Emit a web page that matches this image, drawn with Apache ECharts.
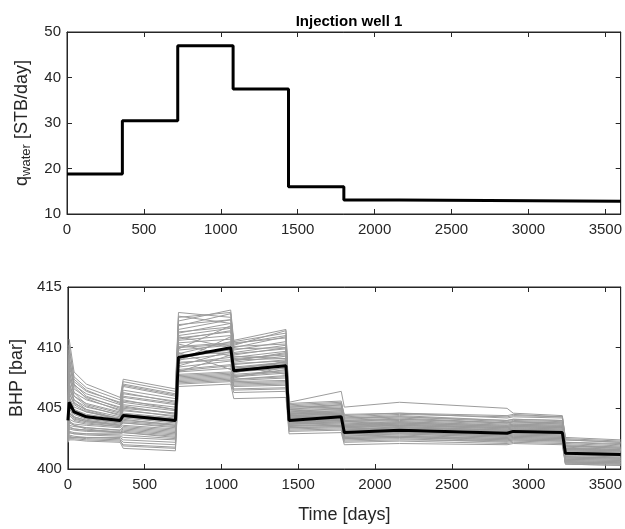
<!DOCTYPE html>
<html><head><meta charset="utf-8">
<script src="https://cdn.jsdelivr.net/npm/echarts@6/dist/echarts.min.js"></script>
<style>html,body{margin:0;padding:0;background:#fff}#c{width:625px;height:529px}</style>
</head><body><div id="c"></div>
<script>
// ---- Top panel: injection rate (step) ----
var rateTimes = [0, 360, 720, 1080, 1440, 1800, 2160, 3600];
var rateValues = [18.8, 30.5, 47.0, 37.5, 16.0, 13.1, 12.8, 12.8];

// ---- Bottom panel: BHP ensemble ----
var bhpTimes = [0, 8, 40, 120, 340, 360, 700, 720, 1060, 1080, 1420, 1440, 1780, 1800, 2160, 2860, 2900, 3220, 3240, 3600];
var bhpMean = [404.0, 405.5, 404.7, 404.3, 404.0, 404.4, 404.0, 409.2, 410.0, 408.1, 408.5, 404.0, 404.3, 403.0, 403.2, 402.95, 403.1, 403.0, 401.3, 401.2];
var m01 = [404.5, 410.7, 408.0, 407.0, 405.9, 407.4, 406.6, 412.9, 412.5, 410.4, 410.8, 405.4, 405.6, 404.3, 404.5, 404.3, 404.4, 404.3, 402.6, 402.4];
var m02 = [404.3, 409.8, 407.6, 406.7, 405.7, 407.2, 406.4, 412.2, 413.1, 410.6, 411.5, 405.5, 406.4, 405.1, 405.5, 405.0, 404.6, 404.4, 402.5, 402.3];
var m03 = [404.2, 409.0, 407.2, 406.4, 405.5, 407.0, 406.2, 411.8, 412.8, 410.2, 411.4, 405.2, 405.4, 404.4, 404.6, 404.2, 404.3, 404.2, 402.4, 402.2];
var m04 = [404.0, 408.5, 406.9, 406.2, 405.3, 406.8, 406.0, 411.5, 412.3, 410.0, 410.9, 405.1, 405.3, 404.2, 404.4, 404.0, 404.1, 404.0, 402.2, 402.0];
var m05 = [403.9, 408.0, 406.6, 405.9, 405.1, 406.5, 405.8, 411.2, 412.0, 409.8, 410.5, 405.0, 405.1, 404.1, 404.3, 403.9, 404.0, 403.9, 402.1, 401.9];
var m06 = [403.8, 407.5, 406.3, 405.7, 404.9, 406.2, 405.6, 411.0, 411.6, 409.6, 410.2, 404.9, 405.0, 404.0, 404.2, 403.8, 403.9, 403.8, 402.0, 401.8];
var m07 = [403.7, 407.0, 406.0, 405.4, 404.7, 405.9, 405.3, 410.8, 411.3, 409.4, 410.0, 404.8, 404.9, 403.9, 404.0, 403.7, 403.8, 403.7, 401.9, 401.7];
var m08 = [403.6, 406.6, 405.7, 405.1, 404.5, 405.6, 405.1, 410.6, 411.0, 409.2, 409.7, 404.7, 404.8, 403.8, 403.9, 403.6, 403.7, 403.6, 401.8, 401.6];
var m09 = [403.5, 406.2, 405.4, 404.9, 404.3, 405.3, 404.8, 410.4, 410.7, 409.0, 409.5, 404.6, 404.7, 403.7, 403.8, 403.5, 403.6, 403.5, 401.7, 401.5];
var m10 = [403.4, 405.9, 405.1, 404.7, 404.2, 405.0, 404.6, 410.1, 410.4, 408.8, 409.3, 404.5, 404.6, 403.6, 403.7, 403.4, 403.5, 403.4, 401.6, 401.5];
var m11 = [403.3, 405.6, 404.9, 404.5, 404.1, 404.8, 404.4, 409.8, 410.2, 408.6, 409.0, 404.4, 404.5, 403.5, 403.6, 403.3, 403.4, 403.3, 401.5, 401.4];
var m12 = [403.2, 405.3, 404.7, 404.3, 403.9, 404.6, 404.2, 409.5, 410.5, 408.4, 408.8, 404.3, 404.4, 403.4, 403.5, 403.2, 403.3, 403.2, 401.4, 401.3];
var m13 = [403.1, 405.0, 404.5, 404.1, 403.8, 404.4, 404.0, 409.3, 409.8, 408.2, 408.6, 404.2, 404.3, 403.3, 403.4, 403.1, 403.2, 403.1, 401.3, 401.2];
var m14 = [403.0, 404.7, 404.3, 404.0, 403.7, 404.2, 403.8, 409.0, 409.5, 408.0, 408.3, 404.1, 404.2, 403.2, 403.3, 403.0, 403.1, 403.0, 401.2, 401.1];
var m15 = [402.9, 404.4, 404.1, 403.9, 403.6, 404.0, 403.7, 408.7, 409.2, 407.8, 408.1, 404.0, 404.1, 403.1, 403.2, 402.9, 403.0, 402.9, 401.1, 401.0];
var m16 = [402.8, 404.1, 403.9, 403.7, 403.5, 403.8, 403.5, 408.4, 408.9, 407.6, 407.9, 403.9, 404.0, 403.0, 403.1, 402.8, 402.9, 402.8, 401.0, 400.9];
var m17 = [402.7, 403.9, 403.7, 403.6, 403.4, 403.6, 403.3, 408.2, 408.6, 407.4, 407.7, 403.8, 403.9, 402.9, 403.0, 402.7, 402.8, 402.7, 400.9, 400.8];
var m18 = [402.6, 403.6, 403.5, 403.4, 403.2, 403.4, 403.1, 408.0, 408.3, 407.3, 407.5, 403.7, 403.8, 402.8, 402.9, 402.6, 402.7, 402.6, 400.8, 400.7];
var m19 = [402.5, 403.3, 403.2, 403.1, 403.0, 403.2, 402.9, 407.8, 408.0, 407.2, 407.3, 403.6, 403.7, 402.7, 402.8, 402.5, 402.6, 402.5, 400.7, 400.6];
var m20 = [402.4, 403.1, 403.0, 402.9, 402.9, 403.0, 402.7, 407.6, 407.8, 407.0, 407.1, 403.5, 403.6, 402.6, 402.7, 402.4, 402.5, 402.4, 400.6, 400.5];
var m21 = [402.4, 403.0, 402.9, 402.8, 402.7, 402.6, 402.4, 407.4, 407.6, 406.8, 406.9, 403.4, 403.5, 402.5, 402.6, 402.3, 402.4, 402.3, 400.5, 400.5];
var m22 = [402.3, 402.8, 402.7, 402.6, 402.5, 402.2, 402.0, 407.2, 407.4, 406.6, 406.7, 403.3, 403.4, 402.4, 402.5, 402.2, 402.3, 402.2, 400.5, 400.4];
var m23 = [402.3, 402.6, 402.6, 402.5, 402.4, 401.9, 401.7, 407.0, 407.2, 406.3, 406.4, 403.1, 403.2, 402.2, 402.3, 402.1, 402.2, 402.1, 400.4, 400.3];
var m24 = [402.2, 402.4, 402.4, 402.3, 402.2, 401.7, 401.5, 406.8, 407.0, 405.8, 405.9, 402.9, 403.0, 402.0, 402.1, 402.0, 402.1, 402.0, 400.4, 400.3];
var m25 = [404.0, 409.4, 407.0, 406.0, 405.0, 406.0, 405.4, 411.9, 412.3, 410.1, 410.3, 405.1, 405.2, 404.0, 404.1, 403.8, 403.9, 403.8, 401.9, 401.8];
var m26 = [403.6, 408.2, 406.3, 405.3, 404.6, 405.7, 404.9, 409.9, 411.8, 409.3, 409.1, 404.4, 404.5, 403.5, 403.6, 403.4, 403.5, 403.4, 401.6, 401.5];
var m27 = [403.0, 406.0, 404.9, 404.4, 403.9, 404.3, 403.9, 410.3, 409.3, 408.9, 409.6, 404.2, 404.4, 403.3, 403.4, 403.1, 403.2, 403.1, 401.3, 401.2];
var m28 = [402.6, 404.0, 403.6, 403.3, 403.0, 403.1, 402.8, 408.5, 409.7, 407.5, 408.4, 403.7, 403.9, 402.9, 403.0, 402.7, 402.8, 402.7, 400.9, 400.8];
var m29 = [402.9, 405.0, 404.3, 404.0, 403.6, 404.1, 403.6, 409.6, 408.2, 408.5, 407.8, 403.9, 404.0, 402.6, 402.7, 402.5, 402.6, 402.5, 400.7, 400.6];
var m30 = [403.3, 407.2, 405.7, 404.9, 404.1, 405.2, 404.5, 408.9, 410.9, 407.9, 408.9, 404.6, 404.5, 403.6, 403.8, 403.5, 403.6, 403.5, 401.7, 401.6];
var m31 = [403.8, 408.8, 406.8, 405.8, 404.8, 406.3, 405.5, 412.5, 412.9, 410.3, 411.0, 404.9, 405.3, 404.2, 404.3, 404.0, 404.1, 404.0, 402.2, 402.1];
var m32 = [403.5, 407.8, 406.0, 405.2, 404.4, 405.5, 404.9, 411.3, 411.7, 409.9, 410.0, 404.7, 405.0, 403.9, 404.1, 403.8, 403.9, 403.7, 401.9, 401.7];
var m33 = [403.2, 406.4, 405.3, 404.7, 404.1, 405.1, 404.6, 410.7, 411.4, 409.5, 409.9, 404.6, 404.8, 403.7, 403.9, 403.6, 403.7, 403.6, 401.7, 401.6];
var m34 = [402.8, 405.3, 404.6, 404.2, 403.8, 404.5, 404.1, 410.0, 410.3, 409.1, 409.4, 404.4, 404.6, 403.5, 403.7, 403.4, 403.5, 403.4, 401.5, 401.4];
var m35 = [402.7, 404.5, 404.0, 403.8, 403.5, 403.9, 403.6, 409.4, 409.6, 408.7, 408.9, 404.3, 404.4, 403.4, 403.6, 403.3, 403.4, 403.3, 401.4, 401.3];
var m36 = [402.5, 403.8, 403.6, 403.4, 403.2, 403.5, 403.2, 408.8, 409.0, 408.3, 408.7, 404.1, 404.2, 403.2, 403.4, 403.2, 403.3, 403.2, 401.2, 401.1];
var m37 = [402.4, 403.4, 403.3, 403.2, 403.1, 403.3, 403.0, 408.1, 408.5, 407.7, 408.0, 403.9, 404.1, 403.1, 403.2, 403.0, 403.1, 403.0, 401.0, 400.9];
var m38 = [402.3, 403.0, 402.9, 402.9, 402.8, 402.8, 402.5, 407.7, 407.9, 407.4, 407.6, 403.7, 403.8, 402.9, 403.0, 402.8, 402.9, 402.8, 400.8, 400.7];
var m39 = [402.2, 402.7, 402.6, 402.6, 402.6, 402.4, 402.2, 407.3, 407.5, 406.9, 407.0, 403.6, 403.6, 402.7, 402.9, 402.6, 402.7, 402.6, 400.6, 400.5];
var m40 = [402.2, 402.5, 402.5, 402.4, 402.3, 402.0, 401.8, 407.1, 407.3, 406.5, 406.6, 403.2, 403.3, 402.3, 402.4, 402.3, 402.4, 402.3, 400.5, 400.4];
var m41 = [404.1, 410.2, 407.4, 406.5, 405.4, 406.9, 406.1, 412.6, 412.0, 410.5, 411.2, 405.3, 405.5, 404.5, 404.6, 404.4, 404.5, 404.3, 402.4, 402.2];
var m42 = [403.4, 406.9, 405.5, 404.8, 404.0, 404.9, 404.3, 410.9, 410.0, 409.0, 409.1, 404.5, 404.7, 403.6, 403.8, 403.5, 403.6, 403.5, 401.6, 401.5];
var m43 = [402.9, 404.6, 404.2, 403.9, 403.6, 403.8, 403.4, 408.0, 409.4, 407.6, 408.2, 403.8, 404.0, 403.0, 403.2, 403.0, 403.1, 403.0, 401.0, 400.9];
var m44 = [403.1, 405.5, 404.8, 404.4, 403.9, 404.5, 404.1, 409.1, 409.9, 408.3, 408.8, 404.2, 404.3, 403.2, 403.5, 403.2, 403.3, 403.2, 401.2, 401.1];
var m45 = [402.6, 403.5, 403.3, 403.2, 403.0, 403.0, 402.6, 407.5, 407.7, 407.1, 407.2, 403.4, 403.5, 402.5, 402.6, 402.4, 402.5, 402.4, 400.6, 400.5];
var members = [m01,m02,m03,m04,m05,m06,m07,m08,m09,m10,m11,m12,m13,m14,m15,m16,m17,m18,m19,m20,m21,m22,m23,m24,m25,m26,m27,m28,m29,m30,
               m31,m32,m33,m34,m35,m36,m37,m38,m39,m40,m41,m42,m43,m44,m45];

function zip(xs, ys) { return xs.map(function (x, i) { return [x, ys[i]]; }); }

var FONT = 'Liberation Sans, Arial, Helvetica, sans-serif';
var AX = '#262626';
function plain(v) { return String(v); }

function xAx(grid, pos, showLabel, extra) {
  return Object.assign({
    type: 'value', gridIndex: grid, position: pos, min: 0, max: 3600, interval: 500,
    axisLine: { show: true, onZero: false, lineStyle: { color: AX, width: 1 } },
    axisTick: { show: true, inside: true, length: 5, lineStyle: { color: AX } },
    axisLabel: { show: showLabel, color: AX, fontSize: 15, fontFamily: FONT, margin: 8, showMaxLabel: false, formatter: plain },
    splitLine: { show: false }
  }, extra || {});
}
function yAx(grid, pos, min, max, interval, showLabel, extra) {
  return Object.assign({
    type: 'value', gridIndex: grid, position: pos, min: min, max: max, interval: interval,
    axisLine: { show: true, onZero: false, lineStyle: { color: AX, width: 1 } },
    axisTick: { show: true, inside: true, length: 5, lineStyle: { color: AX } },
    axisLabel: { show: showLabel, color: AX, fontSize: 15, fontFamily: FONT, margin: 6, formatter: plain },
    splitLine: { show: false }
  }, extra || {});
}

var series = [];
series.push({
  type: 'line', xAxisIndex: 0, yAxisIndex: 0, step: 'end', data: zip(rateTimes, rateValues),
  showSymbol: false, lineStyle: { color: '#000', width: 3 }, silent: true
});
series.push({ type: 'line', xAxisIndex: 1, yAxisIndex: 1, data: [], silent: true });
series.push({ type: 'line', xAxisIndex: 3, yAxisIndex: 3, data: [], silent: true });
members.forEach(function (m) {
  series.push({
    type: 'line', xAxisIndex: 2, yAxisIndex: 2, data: zip(bhpTimes, m),
    showSymbol: false, lineStyle: { color: '#9c9c9c', width: 1 }, silent: true
  });
});
series.push({
  type: 'line', xAxisIndex: 2, yAxisIndex: 2, data: zip(bhpTimes, bhpMean),
  showSymbol: false, lineStyle: { color: '#000', width: 3 }, silent: true, z: 5
});

var chart = echarts.init(document.getElementById('c'), null, { renderer: 'canvas' });
chart.setOption({
  animation: false,
  backgroundColor: '#fff',
  title: {
    text: 'Injection well 1', left: 344, top: 9, textAlign: 'center',
    textStyle: { fontSize: 15, fontWeight: 'bold', color: '#000', fontFamily: FONT }
  },
  grid: [
    { left: 67, top: 32, width: 555, height: 182, show: true, borderColor: AX, borderWidth: 1, backgroundColor: 'transparent' },
    { left: 67, top: 287, width: 555, height: 182, show: true, borderColor: AX, borderWidth: 1, backgroundColor: 'transparent' }
  ],
  xAxis: [
    xAx(0, 'bottom', true),
    xAx(0, 'top', false),
    xAx(1, 'bottom', true, {
      name: 'Time [days]', nameLocation: 'middle', nameGap: 37,
      nameTextStyle: { fontSize: 18, color: AX, fontFamily: FONT }
    }),
    xAx(1, 'top', false)
  ],
  yAxis: [
    yAx(0, 'left', 10, 50, 10, true, {
      name: '{n|q}{s|water}{n| [STB/day]}', nameLocation: 'middle', nameGap: 32, nameRotate: 90,
      nameTextStyle: {
        color: AX, fontFamily: FONT,
        rich: {
          n: { fontSize: 18, color: AX, fontFamily: FONT },
          s: { fontSize: 13, color: AX, fontFamily: FONT, padding: [10, 0, 0, 0] }
        }
      }
    }),
    yAx(0, 'right', 10, 50, 10, false),
    yAx(1, 'left', 400, 415, 5, true, {
      name: 'BHP [bar]', nameLocation: 'middle', nameGap: 34, nameRotate: 90,
      nameTextStyle: { fontSize: 18, color: AX, fontFamily: FONT }
    }),
    yAx(1, 'right', 400, 415, 5, false)
  ],
  series: series
});
</script></body></html>
